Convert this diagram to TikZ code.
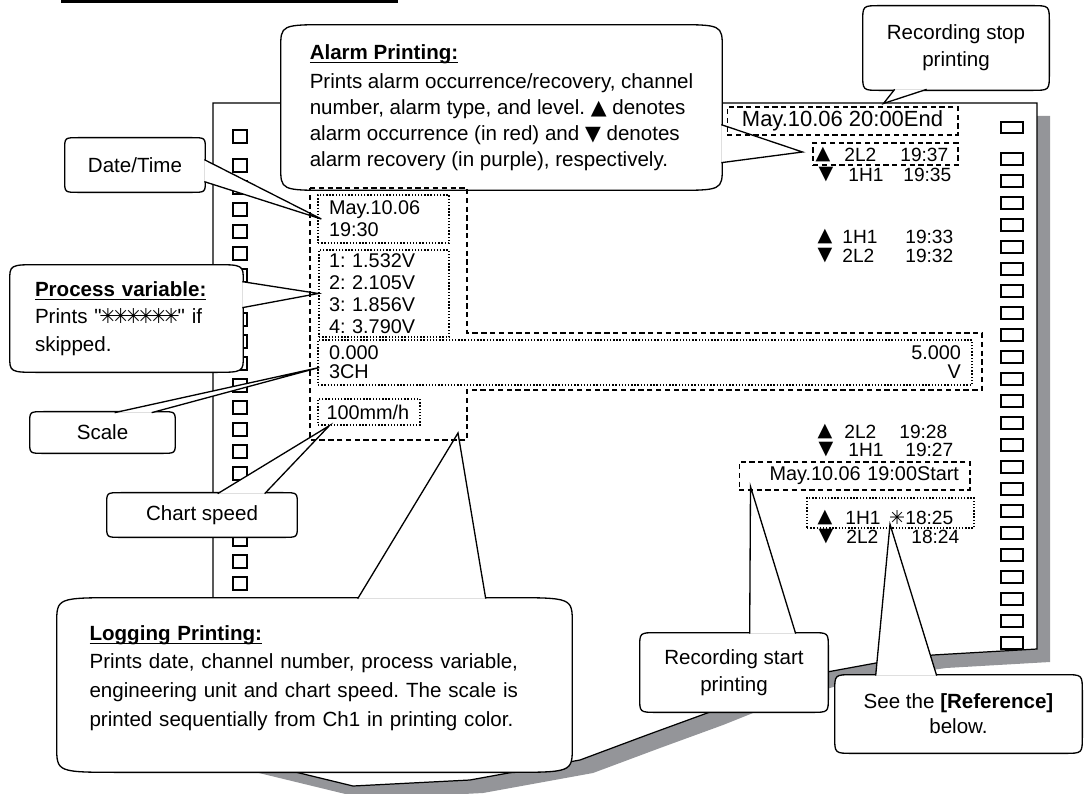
\documentclass[tikz,border=0pt]{standalone}
\usepackage{fontspec}
\setmainfont{Liberation Sans}
\newfontfamily\symfont{DejaVu Sans}
\usetikzlibrary{calc}
\definecolor{shadowgray}{RGB}{148,149,153}
\frenchspacing

\newcommand{\alup}{{\symfont ▲}}
\newcommand{\aldown}{{\symfont ▼}}
\newcommand{\skipstar}{{\symfont\kern-1.3pt ✳\kern-1.3pt}}
\newsavebox{\headbox}
\newcommand{\heading}[1]{\sbox{\headbox}{\textbf{#1}}%
  \usebox{\headbox}\llap{\rule[-2.3pt]{\wd\headbox}{0.9pt}}}

\pgfdeclarelayer{paper}
\pgfdeclarelayer{bubbles}
\pgfsetlayers{paper,bubbles,main}

% outline of the chart paper (pixel units)
\newcommand{\paperedge}{(213,103) -- (1037,103) -- (1037,649) -- (933,655)
  -- (876,663) -- (827,672) -- (760,692) -- (710,712) -- (647,735)
  -- (580,760) -- (470,780) -- (353,786) -- (213,752) -- cycle}

% callout body with soft corners: node, x radius, y radius
\newcommand{\bubble}[3]{%
  \draw[bubble line, fill=white]
    ($(#1.north west)+(0,#3)$) .. controls (#1.north west) .. ($(#1.north west)+(#2,0)$)
    -- ($(#1.north east)+(-#2,0)$) .. controls (#1.north east) .. ($(#1.north east)+(0,#3)$)
    -- ($(#1.south east)+(0,-#3)$) .. controls (#1.south east) .. ($(#1.south east)+(-#2,0)$)
    -- ($(#1.south west)+(#2,0)$) .. controls (#1.south west) .. ($(#1.south west)+(0,-#3)$)
    -- cycle;}

% callout pointer: base point, tip, base point
\newcommand{\pointer}[3]{%
  \fill[white] #1 -- #2 -- #3 -- cycle;
  \draw[bubble line] #1 -- #2 -- #3;}

\begin{document}
\begin{tikzpicture}[x=0.02cm, y=-0.02cm,
    bubble line/.style={draw=black, line width=0.75pt},
    callout/.style={inner sep=0pt, align=center,
                    font=\fontsize{11.7pt}{15.3pt}\selectfont},
    hole/.style={draw, line width=0.7pt},
    dashbox/.style={draw, dash pattern=on 3pt off 2pt, line width=0.6pt},
    dotbox/.style={draw, densely dotted, line width=0.8pt, inner sep=0pt},
    printed/.style={font=\fontsize{11.3pt}{12.5pt}\selectfont, inner sep=0pt},
    logrow/.style={font=\fontsize{10.9pt}{12pt}\selectfont, inner sep=0pt}]

  \useasboundingbox (0,0) rectangle (1088,794);
  \fill (61,0) rectangle (398,3);

  % chart paper with its feed holes
  \begin{pgfonlayer}{paper}
    \fill[shadowgray, shift={(13,13)}] \paperedge;
    \draw[line width=0.7pt, fill=white] \paperedge;
    \draw[hole] (233,130) rectangle +(14,13);
    \foreach \k in {0,...,20}
      \draw[hole] (233,{159+22*\k}) rectangle +(14,13);
    \draw[hole] (1001,122) rectangle +(22,11);
    \foreach \k in {0,...,22}
      \draw[hole] (1001,{153+22*\k}) rectangle +(22,12);
  \end{pgfonlayer}

  % logging printout
  \node[dotbox, printed, minimum width=2.62cm, minimum height=0.96cm,
        text width=2.18cm, align=left, inner xsep=0.22cm] (datebox)
        at (383.5,219) {May.10.06\\19:30};
  \node[dotbox, printed, minimum width=2.6cm, minimum height=1.74cm,
        text width=2.2cm, align=left, inner xsep=0.2cm,
        font=\fontsize{11.3pt}{12.4pt}\selectfont] (pvbox)
        at (384,293.5) {1: 1.532V\\2: 2.105V\\3: 1.856V\\4: 3.790V};
  \node[dotbox, printed, minimum width=13.08cm, minimum height=0.9cm,
        text width=12.64cm, align=left, inner xsep=0.22cm,
        font=\fontsize{11.3pt}{10.8pt}\selectfont] (scalebox)
        at (645,362.5) {0.000\hfill 5.000\\3CH\hfill V\hspace*{1pt}};
  \node[dotbox, printed, minimum width=2.04cm, minimum height=0.52cm,
        text width=1.7cm, align=left, inner xsep=0.17cm] (speedbox)
        at (369,412) {100mm/h};
  \draw[dashbox] (310,188) -- (467,188) -- (467,333) -- (982,333)
    -- (982,390) -- (467,390) -- (467,440) coordinate (groupcorner)
    -- (310,440) -- cycle;

  % alarm printout and start/stop marks
  \node[dashbox, minimum width=4.62cm, minimum height=0.56cm, inner sep=0pt,
        font=\fontsize{12.5pt}{14pt}\selectfont] (endbox)
        at (842.5,121) {May.10.06 20:00End};
  \node[dashbox, minimum width=2.9cm, minimum height=0.44cm] (alarmbox)
        at (885.5,154) {};
  \node[dashbox, printed, minimum width=4.62cm, minimum height=0.56cm,
        text width=4.18cm, align=right, inner xsep=0.22cm] (startbox)
        at (854.5,476) {May.10.06 19:00Start};
  \node[dotbox, minimum width=3.34cm, minimum height=0.6cm] (markbox)
        at (890.5,513) {};
  \foreach \y/\s/\sx/\c/\cx/\t/\tx [count=\i] in {
      155/\alup/823/2L2/844/19:37/900,
      175/\aldown/826/1H1/848/19:35/903,
      237/\alup/825/1H1/842/19:33/905,
      256/\aldown/825/2L2/842/19:32/905,
      432/\alup/825/2L2/844/19:28/899,
      450/\aldown/826/1H1/848/19:27/905,
      518/\alup/825/1H1/845/18:25/905,
      537/\aldown/826/2L2/846/18:24/911} {
    \node[logrow] (sym\i) at (\sx,\y) {\s};
    \node[logrow, anchor=west] (ch\i) at (\cx,\y) {\c};
    \node[logrow, anchor=west] (tm\i) at (\tx,\y) {\t};
  }
  \node[logrow, anchor=west] (skip) at (891,518) {\skipstar};

  % callout texts
  \node[callout, minimum width=8.82cm, minimum height=3.3cm, align=left,
        font=\fontsize{11.7pt}{14.7pt}\selectfont] (alarm) at (501.5,107.5)
        {\heading{Alarm Printing:}\\[2pt]
         Prints alarm occurrence/recovery, channel\\
         number, alarm type, and level. \alup\ denotes\\
         alarm occurrence (in red) and \aldown\ denotes\\
         alarm recovery (in purple), respectively.};
  \node[callout, minimum width=3.72cm, minimum height=1.68cm] (recstop)
        at (956,48) {Recording stop\\printing};
  \node[callout, minimum width=2.8cm, minimum height=1.08cm] (datetime)
        at (135,165) {Date/Time};
  \node[callout, minimum width=4.66cm, minimum height=2.14cm,
        text width=3.66cm, align=left, inner xsep=0.5cm,
        font=\fontsize{11.7pt}{15.6pt}\selectfont] (pvar) at (126.5,318.5)
        {\heading{Process variable:}\\
         Prints \textquotedbl\skipstar\skipstar\skipstar\skipstar\skipstar\skipstar\textquotedbl\ if\\
         skipped.};
  \node[callout, minimum width=2.9cm, minimum height=0.82cm] (scale)
        at (102.5,432.5) {Scale};
  \node[callout, minimum width=3.8cm, minimum height=0.88cm] (speed)
        at (202,515) {Chart speed};
  \node[callout, minimum width=10.3cm, minimum height=3.48cm,
        text width=9.0cm, align=left, inner xsep=0.62cm,
        font=\fontsize{11.7pt}{16.4pt}\selectfont] (logging) at (314.5,685)
        {\heading{Logging Printing:}\\
         Prints date, channel number, process variable,\\
         engineering unit and chart speed. The scale is\\
         printed sequentially from Ch1 in printing color.\\[-6pt]\mbox{}};
  \node[callout, minimum width=3.76cm, minimum height=1.58cm] (recstart)
        at (734,672.5) {Recording start\\printing};
  \node[callout, minimum width=4.94cm, minimum height=1.56cm,
        font=\fontsize{11.7pt}{14.2pt}\selectfont] (reftext)
        at (958.5,714) {See the \textbf{[Reference]}\\below.};

  % callout bodies and pointers
  \begin{pgfonlayer}{bubbles}
    \bubble{alarm}{50}{24}
    \pointer{($(alarm.north east)+(-1,100)$)}{($(alarmbox.west)+(-10,-2)$)}{($(alarm.north east)+(-1,138)$)}
    \bubble{recstop}{17}{17}
    \pointer{($(recstop.south west)+(32,-1)$)}{($(endbox.north east)+(-75,-3)$)}{($(recstop.south west)+(64,-1)$)}
    \bubble{datetime}{14}{12}
    \pointer{($(datetime.north east)+(-1,22)$)}{($(datebox.west)+(4,0)$)}{($(datetime.north east)+(-1,44)$)}
    \bubble{pvar}{30}{17}
    \pointer{($(pvar.north east)+(-1,17)$)}{(pvbox.west)}{($(pvar.north east)+(-1,43)$)}
    \bubble{scale}{14}{12}
    \pointer{($(scale.north west)+(85,1)$)}{($(scalebox.west)+(2,5)$)}{($(scale.north west)+(122,1)$)}
    \bubble{speed}{14}{12}
    \pointer{($(speed.north west)+(111,1)$)}{($(speedbox.south west)+(12,0)$)}{($(speed.north west)+(158,1)$)}
    \bubble{logging}{65}{26}
    \pointer{($(logging.north west)+(301,1)$)}{($(groupcorner)+(-9,-7)$)}{($(logging.north west)+(429,1)$)}
    \bubble{recstart}{17}{15}
    \pointer{($(recstart.north west)+(110,1)$)}{($(startbox.south west)+(12,-4)$)}{($(recstart.north west)+(156,1)$)}
    \bubble{reftext}{18}{17}
    \pointer{($(reftext.north west)+(41,1)$)}{($(skip.south west)+(-1,-1)$)}{($(reftext.north west)+(102,1)$)}
  \end{pgfonlayer}
\end{tikzpicture}
\end{document}
